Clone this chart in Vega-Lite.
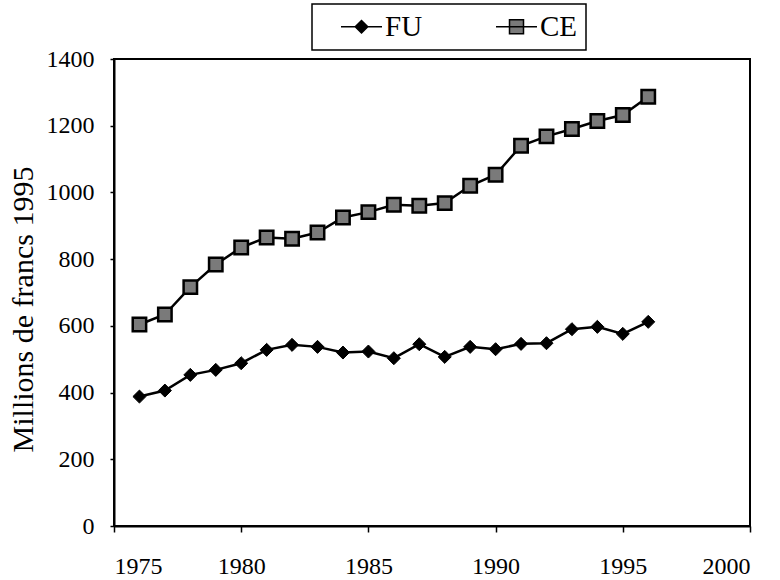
{
  "$schema": "https://vega.github.io/schema/vega-lite/v6.json",
  "width": 636,
  "height": 467,
  "autosize": {"type": "none"},
  "padding": {"left": 114, "top": 59, "right": 30, "bottom": 54},
  "background": "white",
  "datasets": {
    "d": [
      {"year": 1976, "value": 388, "series": "FU"},
      {"year": 1977, "value": 406, "series": "FU"},
      {"year": 1978, "value": 453, "series": "FU"},
      {"year": 1979, "value": 468, "series": "FU"},
      {"year": 1980, "value": 488, "series": "FU"},
      {"year": 1981, "value": 528, "series": "FU"},
      {"year": 1982, "value": 543, "series": "FU"},
      {"year": 1983, "value": 537, "series": "FU"},
      {"year": 1984, "value": 520, "series": "FU"},
      {"year": 1985, "value": 523, "series": "FU"},
      {"year": 1986, "value": 503, "series": "FU"},
      {"year": 1987, "value": 545, "series": "FU"},
      {"year": 1988, "value": 507, "series": "FU"},
      {"year": 1989, "value": 537, "series": "FU"},
      {"year": 1990, "value": 530, "series": "FU"},
      {"year": 1991, "value": 546, "series": "FU"},
      {"year": 1992, "value": 548, "series": "FU"},
      {"year": 1993, "value": 590, "series": "FU"},
      {"year": 1994, "value": 597, "series": "FU"},
      {"year": 1995, "value": 576, "series": "FU"},
      {"year": 1996, "value": 612, "series": "FU"},
      {"year": 1976, "value": 604, "series": "CE"},
      {"year": 1977, "value": 634, "series": "CE"},
      {"year": 1978, "value": 716, "series": "CE"},
      {"year": 1979, "value": 784, "series": "CE"},
      {"year": 1980, "value": 835, "series": "CE"},
      {"year": 1981, "value": 865, "series": "CE"},
      {"year": 1982, "value": 861, "series": "CE"},
      {"year": 1983, "value": 880, "series": "CE"},
      {"year": 1984, "value": 925, "series": "CE"},
      {"year": 1985, "value": 941, "series": "CE"},
      {"year": 1986, "value": 963, "series": "CE"},
      {"year": 1987, "value": 960, "series": "CE"},
      {"year": 1988, "value": 968, "series": "CE"},
      {"year": 1989, "value": 1020, "series": "CE"},
      {"year": 1990, "value": 1053, "series": "CE"},
      {"year": 1991, "value": 1140, "series": "CE"},
      {"year": 1992, "value": 1168, "series": "CE"},
      {"year": 1993, "value": 1190, "series": "CE"},
      {"year": 1994, "value": 1214, "series": "CE"},
      {"year": 1995, "value": 1232, "series": "CE"},
      {"year": 1996, "value": 1287, "series": "CE"}
    ]
  },
  "data": {"name": "d"},
  "encoding": {
    "x": {
      "field": "year", "type": "quantitative",
      "scale": {"domain": [1975, 2000], "nice": false, "zero": false},
      "axis": {"values": [1975, 1980, 1985, 1990, 1995, 2000], "format": "d", "title": null, "labelPadding": 22, "tickSize": 6}
    },
    "y": {
      "field": "value", "type": "quantitative",
      "scale": {"domain": [0, 1400], "nice": false},
      "axis": {"values": [0, 200, 400, 600, 800, 1000, 1200, 1400], "format": "d", "title": "Millions de francs 1995", "labelPadding": 16, "tickSize": 4, "titlePadding": 8, "titleY": 250}
    }
  },
  "layer": [
    {
      "mark": {"type": "line", "color": "black", "strokeWidth": 2.5},
      "encoding": {"detail": {"field": "series", "type": "nominal"}}
    },
    {
      "transform": [{"filter": "datum.series == 'FU'"}],
      "mark": {"type": "point", "shape": "diamond", "filled": true, "fill": "black", "stroke": "black", "strokeWidth": 1, "size": 170, "opacity": 1}
    },
    {
      "transform": [{"filter": "datum.series == 'CE'"}],
      "mark": {"type": "point", "shape": "square", "filled": true, "fill": "#7a7a7a", "stroke": "black", "strokeWidth": 2.5, "size": 180, "opacity": 1}
    },
    {
      "transform": [{"filter": "datum.year < 0"}],
      "mark": {"type": "point", "filled": true, "stroke": "black", "strokeWidth": 2, "opacity": 1},
      "encoding": {
        "shape": {
          "field": "series", "type": "nominal",
          "scale": {"domain": ["FU", "CE"], "range": ["M-4.1,0H4.1M0,-1.25L1.25,0L0,1.25L-1.25,0Z", "M-4.1,0H4.1M-1.4,-1.4H1.4V1.4H-1.4Z"]},
          "legend": {
            "orient": "none", "legendX": 198, "legendY": -55, "direction": "horizontal",
            "title": null, "padding": 8, "strokeColor": "black", "fillColor": "white",
            "symbolOffset": 27, "labelOffset": 9, "columnPadding": 52,
            "labelFont": "Liberation Serif", "labelFontSize": 29, "labelColor": "black",
            "encode": {"symbols": {"update": {"stroke": {"value": "black"}, "strokeWidth": {"value": 2}, "opacity": {"value": 1}}}}
          }
        },
        "fill": {
          "field": "series", "type": "nominal",
          "scale": {"domain": ["FU", "CE"], "range": ["black", "#7a7a7a"]}
        }
      }
    }
  ],
  "config": {
    "view": {"stroke": "black", "strokeWidth": 2},
    "axis": {
      "grid": false, "domainColor": "black", "domainWidth": 2, "tickColor": "black", "tickWidth": 1.5,
      "labelFont": "Liberation Serif", "labelFontSize": 24, "labelColor": "black",
      "titleFont": "Liberation Serif", "titleFontSize": 30, "titleFontWeight": "normal", "titleColor": "black"
    },
    "legend": {"strokeWidth": 1.5}
  }
}
